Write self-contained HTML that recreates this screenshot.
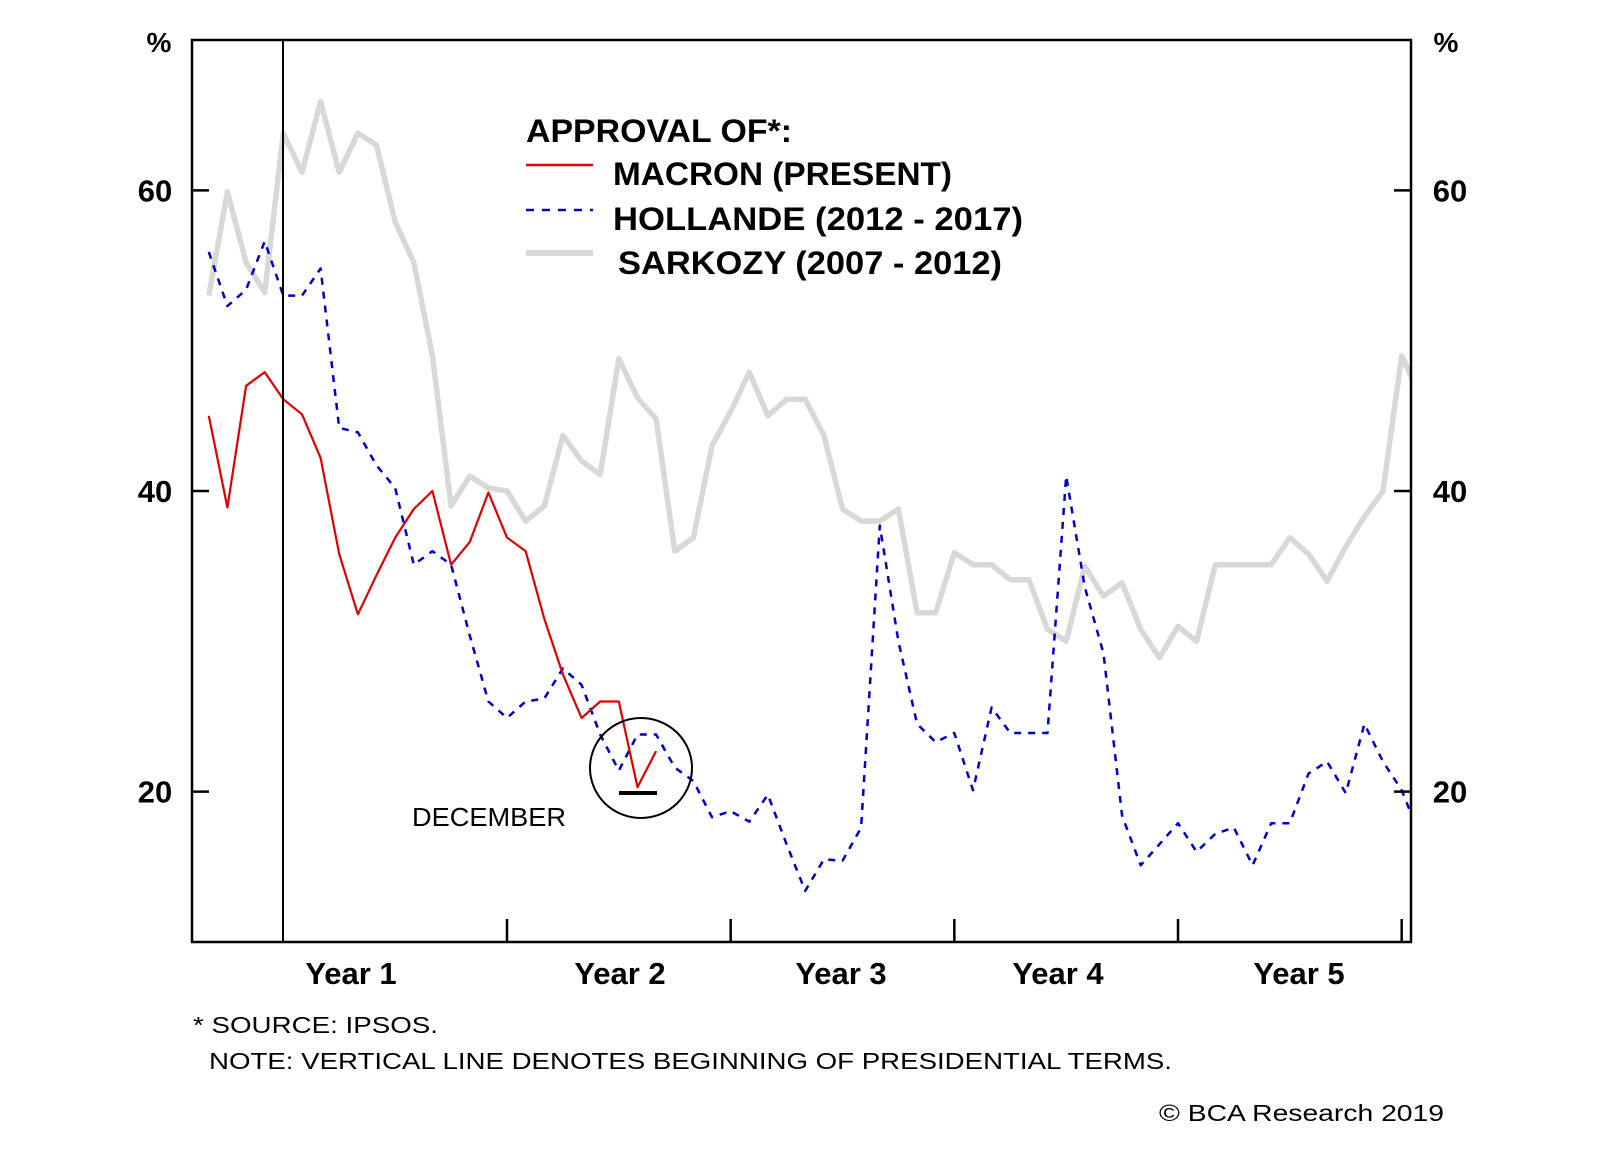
<!DOCTYPE html>
<html><head><meta charset="utf-8"><style>
html,body{margin:0;padding:0;background:#fff;}
svg{display:block;font-family:"Liberation Sans",Arial,sans-serif;}
</style></head><body>
<svg id="chart" width="1600" height="1152" viewBox="0 0 1600 1152">
<rect x="0" y="0" width="1600" height="1152" fill="#fff"/>
<g id="series"></g>
<rect x="192" y="40" width="1219" height="902" fill="none" stroke="#000" stroke-width="2.5"/>
<line x1="283" y1="40" x2="283" y2="942" stroke="#000" stroke-width="2"/>
<g id="axes"></g>
<text x="159" y="52" font-size="28" font-weight="bold" text-anchor="middle">%</text>
<text x="1446" y="52" font-size="28" font-weight="bold" text-anchor="middle">%</text>
<g>
<text x="526" y="142" font-size="32" font-weight="bold" textLength="266" lengthAdjust="spacingAndGlyphs">APPROVAL OF*:</text>
<line x1="526" y1="165" x2="593" y2="165" stroke="#e00000" stroke-width="2.5"/>
<text x="613" y="185" font-size="32" font-weight="bold" textLength="339" lengthAdjust="spacingAndGlyphs">MACRON (PRESENT)</text>
<line x1="526" y1="210" x2="593" y2="210" stroke="#0000cc" stroke-width="2.5" stroke-dasharray="8,8"/>
<text x="613" y="230" font-size="32" font-weight="bold" textLength="410" lengthAdjust="spacingAndGlyphs">HOLLANDE (2012 - 2017)</text>
<line x1="526" y1="253" x2="593" y2="253" stroke="#d8d8d8" stroke-width="6"/>
<text x="618" y="274" font-size="32" font-weight="bold" textLength="384" lengthAdjust="spacingAndGlyphs">SARKOZY (2007 - 2012)</text>
</g>
<ellipse cx="641" cy="768" rx="51" ry="50" fill="none" stroke="#000" stroke-width="2"/>
<line x1="619" y1="793" x2="657" y2="793" stroke="#000" stroke-width="4"/>
<text x="412" y="826" font-size="26" textLength="154" lengthAdjust="spacingAndGlyphs">DECEMBER</text>
<text x="193" y="1033" font-size="23" textLength="245" lengthAdjust="spacingAndGlyphs">* SOURCE: IPSOS.</text>
<text x="209" y="1069" font-size="23" textLength="963" lengthAdjust="spacingAndGlyphs">NOTE: VERTICAL LINE DENOTES BEGINNING OF PRESIDENTIAL TERMS.</text>
<text x="1159" y="1121" font-size="23" textLength="285" lengthAdjust="spacingAndGlyphs">© BCA Research 2019</text>
</svg>
<script>
const months = [];
for (let m = -4; m <= 61; m++) months.push(m);
const sarkozy = [53,59.9,55.2,53.2,63.8,61.2,65.9,61.2,63.8,63,57.9,55.2,49,39,41,40.2,40,38,39,43.7,42,41.1,48.8,46.2,44.8,36,36.9,43,45.3,47.9,45,46.1,46.1,43.7,38.8,38,38,38.8,31.9,31.9,35.9,35.1,35.1,34.1,34.1,30.8,30,35,33,33.9,30.8,28.9,31,30,35.1,35.1,35.1,35.1,36.9,35.8,34,36.3,38.3,40,49,46.3];
const hollande = [55.9,52.3,53.4,56.6,53,53,54.8,44.2,43.9,41.7,40.2,35.1,36,35.1,30.4,26,24.9,26,26.2,28.2,27.1,23.8,21.4,23.8,23.8,21.6,20.7,18.3,18.7,18,19.8,16.5,13.4,15.5,15.4,17.6,37.7,30,24.5,23.3,23.9,20.1,25.6,23.9,23.9,23.9,41,33.6,29.2,18.4,15.1,16.5,17.9,16,17.2,17.6,15.1,17.9,17.9,21.2,22,19.9,24.5,22,20.1,17];
const macron = [45,38.9,47,47.9,46.1,45.1,42.2,35.8,31.8,34.4,36.9,38.8,40,35.1,36.6,39.9,36.9,36,31.5,27.8,24.9,26,26,20.3,22.7];
const yTicks = [20,40,60];
const yearTicks = [12,24,36,48,60];
const yearLabels = ["Year 1","Year 2","Year 3","Year 4","Year 5"];

const NS = "http://www.w3.org/2000/svg";
const X0 = 192, X1 = 1411, Y0 = 40, Y1 = 942;
const xMin = -4.9, xMax = 60.5, yMin = 10, yMax = 70;
function xs(m){ return X0 + (m - xMin) / (xMax - xMin) * (X1 - X0); }
function ys(v){ return Y1 - (v - yMin) / (yMax - yMin) * (Y1 - Y0); }

const sg = document.getElementById('series');
const defs = document.createElementNS(NS,'defs');
const cp = document.createElementNS(NS,'clipPath'); cp.setAttribute('id','clip');
const cr = document.createElementNS(NS,'rect');
cr.setAttribute('x',X0); cr.setAttribute('y',Y0); cr.setAttribute('width',X1-X0); cr.setAttribute('height',Y1-Y0);
cp.appendChild(cr); defs.appendChild(cp); sg.appendChild(defs);
sg.setAttribute('clip-path','url(#clip)');

function line(vals, color, w, dash, name){
  const p = document.createElementNS(NS,'polyline');
  p.setAttribute('points', vals.map((v,i)=>xs(months[i]).toFixed(1)+','+ys(v).toFixed(1)).join(' '));
  p.setAttribute('fill','none'); p.setAttribute('stroke',color); p.setAttribute('stroke-width',w);
  p.setAttribute('stroke-linejoin','round');
  if (dash) p.setAttribute('stroke-dasharray',dash);
  
  
  sg.appendChild(p);
}
line(sarkozy,'#d8d8d8',5.5,null,'sarkozy-line');
line(hollande,'#0000cc',2.5,'7,7','hollande-line');
line(macron,'#e00000',2.2,null,'macron-line');

const ag = document.getElementById('axes');
yTicks.forEach(v=>{
  const y = ys(v);
  [[X0,X0+17,155,'left'],[X1-17,X1,1450,'right']].forEach(([a,b,tx,side])=>{
    const t = document.createElementNS(NS,'line');
    t.setAttribute('x1',a); t.setAttribute('x2',b); t.setAttribute('y1',y); t.setAttribute('y2',y);
    t.setAttribute('stroke','#000'); t.setAttribute('stroke-width','2.5');
    
    
    ag.appendChild(t);
    const l = document.createElementNS(NS,'text');
    l.setAttribute('x',tx); l.setAttribute('y',y+11); l.setAttribute('font-size','31'); l.setAttribute('font-weight','bold');
    l.setAttribute('text-anchor','middle'); l.textContent = v;
    
    
    ag.appendChild(l);
  });
});
yearTicks.forEach(m=>{
  const x = xs(m);
  const t = document.createElementNS(NS,'line');
  t.setAttribute('x1',x); t.setAttribute('x2',x); t.setAttribute('y1',Y1-23); t.setAttribute('y2',Y1);
  t.setAttribute('stroke','#000'); t.setAttribute('stroke-width','2.5');
  
  
  ag.appendChild(t);
});
const labelX = [351,620,841,1058,1299];
yearLabels.forEach((s,i)=>{
  const l = document.createElementNS(NS,'text');
  l.setAttribute('x',labelX[i]); l.setAttribute('y',984); l.setAttribute('font-size','31'); l.setAttribute('font-weight','bold');
  l.setAttribute('text-anchor','middle'); l.textContent = s;
  
  
  ag.appendChild(l);
});
</script>
</body></html>
